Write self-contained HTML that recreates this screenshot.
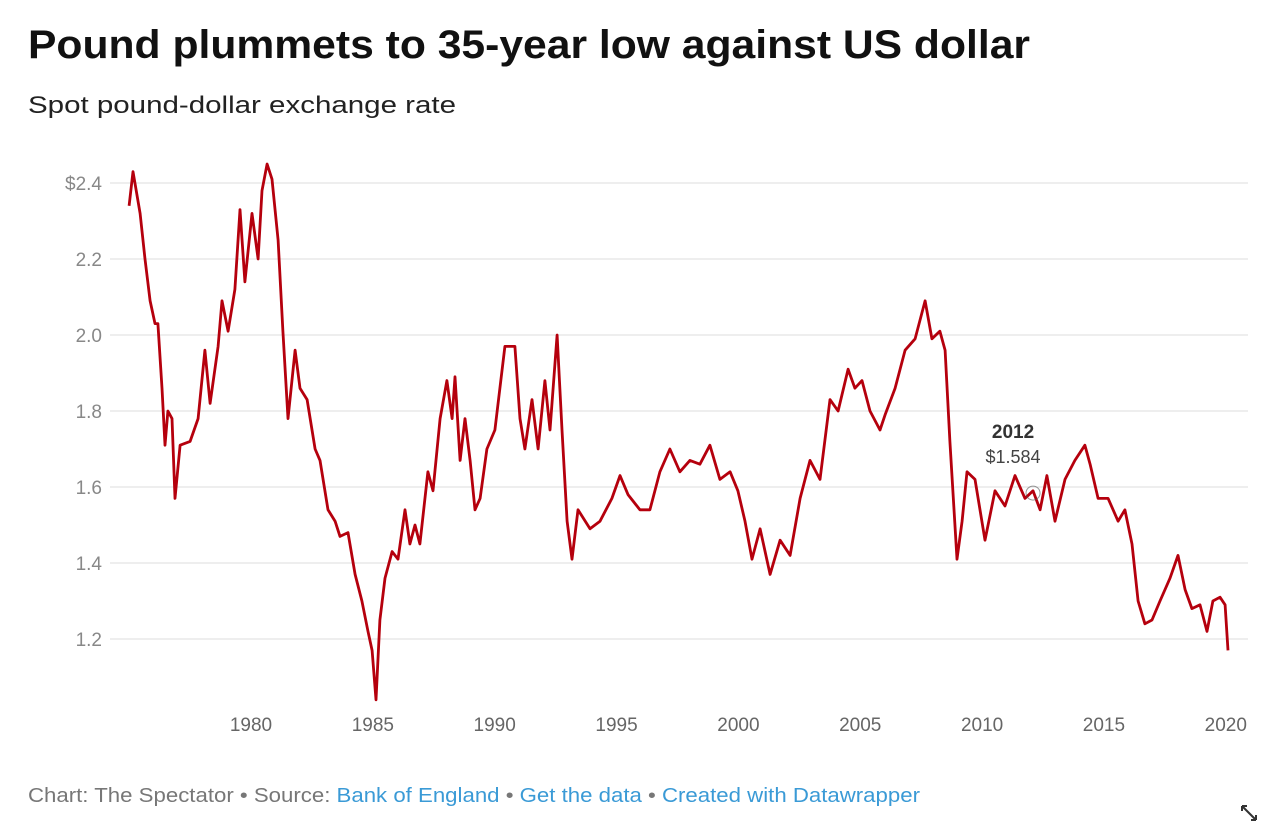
<!DOCTYPE html>
<html><head><meta charset="utf-8"><style>
body{margin:0;background:#fff;width:1280px;height:838px;overflow:hidden;font-family:"Liberation Sans",sans-serif}
svg{position:absolute;left:0;top:0}
</style></head><body>
<svg width="1280" height="838">
<text x="28" y="58" font-size="40" font-weight="bold" fill="#111" textLength="1002" lengthAdjust="spacingAndGlyphs">Pound plummets to 35-year low against US dollar</text>
<text x="28" y="113" font-size="24" fill="#222" textLength="428" lengthAdjust="spacingAndGlyphs">Spot pound-dollar exchange rate</text>
<g id="grid"></g><g id="xaxis"></g><path id="line" fill="none" stroke="#b5000d" stroke-width="2.8" stroke-linejoin="round"/>
<g id="annot"></g>
<text x="28" y="802" font-size="20" fill="#777" textLength="892" lengthAdjust="spacingAndGlyphs">Chart: The Spectator • Source: <tspan fill="#3a9ad6">Bank of England</tspan> • <tspan fill="#3a9ad6">Get the data</tspan> • <tspan fill="#3a9ad6">Created with Datawrapper</tspan></text>
<g stroke="#333" stroke-width="2" fill="none"><path d="M1242 806 L1256 820"/><path d="M1242 806 h5 M1242 806 v5 M1256 820 h-5 M1256 820 v-5"/></g>
</svg>
<script>
const yTicks=[1.2,1.4,1.6,1.8,2.0,2.2,2.4];
const yTickLabels=["1.2","1.4","1.6","1.8","2.0","2.2","$2.4"];
const xTicks=[1980,1985,1990,1995,2000,2005,2010,2015,2020];
const dates=[1975.0,1975.16,1975.45,1975.65,1975.86,1976.06,1976.18,1976.35,1976.47,1976.59,1976.76,1976.88,1977.09,1977.5,1977.83,1978.11,1978.32,1978.65,1978.81,1979.06,1979.34,1979.55,1979.75,1980.04,1980.29,1980.45,1980.66,1980.86,1981.11,1981.31,1981.52,1981.81,1982.01,1982.3,1982.63,1982.83,1983.16,1983.45,1983.65,1983.98,1984.27,1984.55,1984.8,1984.97,1985.13,1985.29,1985.5,1985.79,1986.03,1986.32,1986.52,1986.73,1986.93,1987.26,1987.47,1987.76,1988.04,1988.25,1988.37,1988.58,1988.78,1988.99,1989.19,1989.4,1989.68,1990.01,1990.42,1990.83,1991.04,1991.24,1991.53,1991.78,1992.06,1992.27,1992.56,1992.76,1992.97,1993.17,1993.42,1993.91,1994.32,1994.81,1995.14,1995.47,1995.96,1996.37,1996.78,1997.19,1997.6,1998.01,1998.42,1998.83,1999.24,1999.66,1999.98,2000.27,2000.56,2000.89,2001.3,2001.71,2002.12,2002.53,2002.94,2003.35,2003.76,2004.09,2004.5,2004.78,2005.07,2005.4,2005.81,2006.02,2006.43,2006.84,2007.25,2007.66,2007.94,2008.27,2008.48,2008.68,2008.97,2009.18,2009.38,2009.71,2010.12,2010.53,2010.94,2011.35,2011.76,2012.09,2012.38,2012.66,2012.99,2013.4,2013.81,2014.22,2014.43,2014.76,2015.17,2015.58,2015.86,2016.15,2016.4,2016.68,2016.97,2017.3,2017.71,2018.04,2018.33,2018.61,2018.94,2019.23,2019.47,2019.76,2019.97,2020.09];
const rates=[2.34,2.43,2.32,2.20,2.09,2.03,2.03,1.86,1.71,1.80,1.78,1.57,1.71,1.72,1.78,1.96,1.82,1.97,2.09,2.01,2.12,2.33,2.14,2.32,2.20,2.38,2.45,2.41,2.25,2.01,1.78,1.96,1.86,1.83,1.70,1.67,1.54,1.51,1.47,1.48,1.37,1.30,1.22,1.17,1.04,1.25,1.36,1.43,1.41,1.54,1.45,1.50,1.45,1.64,1.59,1.78,1.88,1.78,1.89,1.67,1.78,1.67,1.54,1.57,1.70,1.75,1.97,1.97,1.78,1.70,1.83,1.70,1.88,1.75,2.00,1.75,1.51,1.41,1.54,1.49,1.51,1.57,1.63,1.58,1.54,1.54,1.64,1.70,1.64,1.67,1.66,1.71,1.62,1.64,1.59,1.51,1.41,1.49,1.37,1.46,1.42,1.57,1.67,1.62,1.83,1.80,1.91,1.86,1.88,1.80,1.75,1.79,1.86,1.96,1.99,2.09,1.99,2.01,1.96,1.72,1.41,1.51,1.64,1.62,1.46,1.59,1.55,1.63,1.57,1.59,1.54,1.63,1.51,1.62,1.67,1.71,1.66,1.57,1.57,1.51,1.54,1.45,1.30,1.24,1.25,1.30,1.36,1.42,1.33,1.28,1.29,1.22,1.30,1.31,1.29,1.17];
const annYear=[2012.09], annVal=[1.584];
const NS="http://www.w3.org/2000/svg";
const xs=y=>251+(y-1980)*24.37;
const ys=v=>183+(2.4-v)*380;
function mk(t,a,p){const e=document.createElementNS(NS,t);for(const k in a)e.setAttribute(k,a[k]);p.appendChild(e);return e;}
const grid=document.getElementById('grid');
yTicks.forEach((v,i)=>{
 const l=mk('line',{x1:110,x2:1248,y1:ys(v),y2:ys(v),stroke:'#dcdcdc','stroke-width':1},grid);
 
 
 const t=mk('text',{x:102,y:ys(v)+7,'text-anchor':'end','font-size':19,fill:'#888'},grid);
 t.textContent=yTickLabels[i];
 
 
});
const xa=document.getElementById('xaxis');
xTicks.forEach(v=>{
 const t=mk('text',{x:xs(v),y:731,'text-anchor':'middle','font-size':19,fill:'#666'},xa);
 t.textContent=v;
 
 
});
document.getElementById('line').setAttribute('d',dates.map((d,i)=>(i?'L':'M')+xs(d).toFixed(1)+' '+ys(rates[i]).toFixed(1)).join(' '));
const an=document.getElementById('annot');
annYear.forEach((y,i)=>{
 const x=xs(y),yy=ys(annVal[i]);
 const c=mk('circle',{cx:x,cy:yy,r:7,fill:'none',stroke:'#555','stroke-width':1,opacity:0.6},an);
 
 
 const t1=mk('text',{x:x-20,y:438,'text-anchor':'middle','font-size':19,'font-weight':'bold',fill:'#333'},an);
 t1.textContent=Math.floor(y);
 
 
 const t2=mk('text',{x:x-20,y:463,'text-anchor':'middle','font-size':18,fill:'#444'},an);
 t2.textContent='$'+annVal[i].toFixed(3);
 
 
});
</script>
</body></html>
